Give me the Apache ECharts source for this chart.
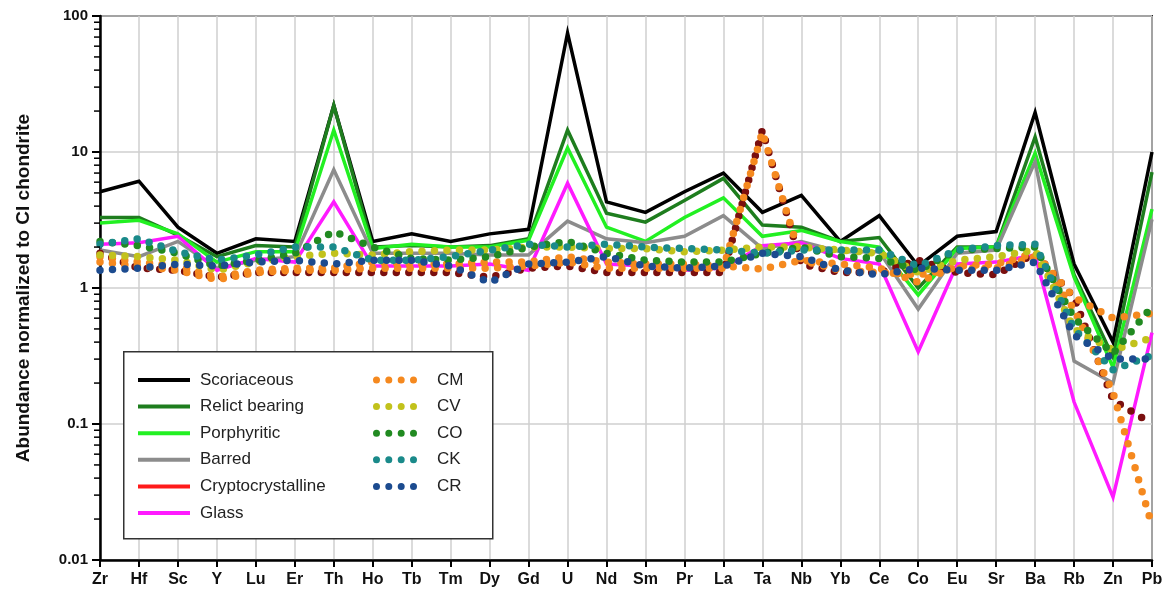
<!DOCTYPE html>
<html>
<head>
<meta charset="utf-8">
<script src="https://cdn.jsdelivr.net/npm/echarts@6/dist/echarts.min.js"></script>
<style>
  html, body { margin: 0; padding: 0; background: #fff; }
  #chart { width: 1168px; height: 606px; }
</style>
</head>
<body>
<div id="chart"></div>
<script>
// elements along the x axis
var elements = ['Zr', 'Hf', 'Sc', 'Y', 'Lu', 'Er', 'Th', 'Ho', 'Tb', 'Tm', 'Dy', 'Gd', 'U', 'Nd',
    'Sm', 'Pr', 'La', 'Ta', 'Nb', 'Yb', 'Ce', 'Co', 'Eu', 'Sr', 'Ba', 'Rb', 'Zn', 'Pb'];
var yTicks = [0.01, 0.1, 1, 10, 100];

// chondrule types (solid lines)
var scoriaceous = [5.1, 6.1, 2.8, 1.8, 2.3, 2.2, 22, 2.2, 2.5, 2.2, 2.5, 2.7, 75, 4.3, 3.6, 5.1, 7.0, 3.6, 4.8, 2.2, 3.4, 1.45, 2.4, 2.6, 19.5, 1.5, 0.4, 10];
var relict = [3.3, 3.3, 2.45, 1.7, 2.05, 2.0, 22, 2.0, 2.05, 2.0, 2.05, 2.3, 14.5, 3.55, 3.05, 4.4, 6.4, 2.9, 2.8, 2.2, 2.35, 1.0, 2.0, 2.0, 12.9, 1.25, 0.31, 7.1];
var porphyritic = [3.0, 3.15, 2.5, 1.55, 1.85, 1.85, 14.5, 1.95, 2.1, 2.0, 2.0, 2.25, 10.7, 2.8, 2.2, 3.3, 4.6, 2.4, 2.65, 2.2, 2.0, 0.89, 1.95, 2.0, 9.8, 1.2, 0.26, 3.8];
var barred = [1.9, 1.7, 2.2, 1.4, 1.6, 1.7, 7.4, 1.8, 1.8, 1.8, 1.75, 1.75, 3.1, 2.3, 2.15, 2.4, 3.4, 1.95, 2.2, 1.85, 1.85, 0.7, 1.8, 1.9, 8.5, 0.29, 0.2, 3.2];
var crypto = [1.85, 1.9, 2.45, 1.75, 2.3, 2.1, 2.4, 1.95, 1.8, 1.8, 1.8, 1.8, 0.63, 1.85, 1.75, 1.7, 1.9, 2.1, 2.15, 2.05, 1.75, 0.38, 1.7, 1.6, 2.2, 0.076, 0.018, 0.22];
var glass = [2.1, 2.15, 2.4, 1.35, 1.65, 1.55, 4.3, 1.45, 1.45, 1.45, 1.5, 1.35, 5.9, 1.5, 1.45, 1.35, 1.4, 2.05, 2.15, 1.65, 1.5, 0.34, 1.5, 1.55, 1.75, 0.145, 0.029, 0.47];

// chondrite groups (dotted lines)
var ciMaroon = [1.8, 1.4, 1.35, 1.2, 1.3, 1.3, 1.3, 1.3, 1.3, 1.3, 1.2, 1.4, 1.45, 1.3, 1.3, 1.3, 1.3, 14.5, 1.5, 1.3, 1.3, 1.6, 1.3, 1.25, 1.8, 0.85, 0.15, 0.1];
var cmFlat = [1.7, 1.55, 1.45, 1.2, 1.35, 1.4, 1.4, 1.55, 1.5, 1.5, 1.55, 1.55, 1.7, 1.55, 1.5, 1.5, 1.45, 1.38, 1.6, 1.5, 1.4, 1.1, 1.45, 1.5, 1.8, 0.85, 0.6, 0.65];
var cm = [1.55, 1.45, 1.35, 1.15, 1.3, 1.35, 1.35, 1.4, 1.4, 1.4, 1.4, 1.45, 1.55, 1.4, 1.4, 1.4, 1.4, 14, 1.6, 1.35, 1.3, 1.25, 1.4, 1.4, 1.7, 0.7, 0.17, 0.018];
var cv = [1.75, 1.7, 1.6, 1.35, 1.55, 1.7, 1.8, 1.75, 1.85, 1.9, 1.9, 2.0, 2.0, 1.95, 1.95, 1.85, 1.9, 2.0, 2.0, 1.9, 1.8, 1.3, 1.6, 1.7, 1.9, 0.5, 0.35, 0.43];
var co = [2.2, 2.05, 1.8, 1.45, 1.6, 1.8, 2.6, 2.0, 1.65, 1.6, 1.7, 2.0, 2.2, 1.8, 1.6, 1.55, 1.55, 1.8, 2.0, 1.7, 1.65, 1.35, 1.9, 1.95, 2.0, 0.6, 0.33, 0.73];
var ck = [2.1, 2.3, 1.85, 1.6, 1.75, 2.0, 2.0, 1.6, 1.6, 1.7, 1.9, 2.1, 2.0, 2.1, 2.0, 1.95, 1.9, 1.8, 1.9, 1.9, 1.9, 1.45, 1.9, 2.05, 2.1, 0.5, 0.25, 0.32];
var cr = [1.35, 1.4, 1.5, 1.45, 1.55, 1.6, 1.5, 1.6, 1.6, 1.45, 1.1, 1.5, 1.55, 1.7, 1.45, 1.4, 1.45, 1.8, 1.7, 1.35, 1.25, 1.4, 1.35, 1.35, 1.55, 0.45, 0.3, 0.3];

var myChart = echarts.init(document.getElementById('chart'), null, {renderer: 'canvas'});
var font = 'Liberation Sans, Arial, sans-serif';

// log minor ticks 2..9 in each decade
var minorTicks = [];
for (var d = 0; d < yTicks.length - 1; d++) {
    for (var m = 2; m <= 9; m++) {
        minorTicks.push([0, +(yTicks[d] * m).toPrecision(3)]);
    }
}

// legend icons: a bar for solid lines, four dots for the dotted ones
var dotIcon = 'path://M0,3.5a3.5,3.5 0 1,0 7,0a3.5,3.5 0 1,0 -7,0' +
    'M12.3,3.5a3.5,3.5 0 1,0 7,0a3.5,3.5 0 1,0 -7,0' +
    'M24.7,3.5a3.5,3.5 0 1,0 7,0a3.5,3.5 0 1,0 -7,0' +
    'M37,3.5a3.5,3.5 0 1,0 7,0a3.5,3.5 0 1,0 -7,0';

function solid(name, color, data) {
    return {
        name: name,
        type: 'line',
        data: data,
        symbol: 'none',
        lineStyle: {color: color, width: 3.5, join: 'miter'},
        itemStyle: {color: color},
        z: 2
    };
}

function dotted(name, color, data) {
    return {
        name: name,
        type: 'line',
        data: data,
        symbol: 'none',
        lineStyle: {color: color, width: 7.5, type: [0, 12.5], cap: 'round'},
        itemStyle: {color: color},
        z: 3
    };
}

var series = [
    solid('Scoriaceous', '#000000', scoriaceous),
    solid('Relict bearing', '#1e7d1e', relict),
    solid('Porphyritic', '#22f022', porphyritic),
    solid('Barred', '#8c8c8c', barred),
    solid('Cryptocrystalline', '#ff1a1a', crypto),
    solid('Glass', '#ff1aff', glass),
    dotted('CI', '#7a0f0f', ciMaroon),
    dotted('CM ', '#f5891f', cmFlat),
    dotted('CM', '#f5891f', cm),
    dotted('CV', '#c2c21c', cv),
    dotted('CO', '#218a21', co),
    dotted('CK', '#1a8a8a', ck),
    dotted('CR', '#1c4b8f', cr),
    {
        type: 'custom',
        silent: true,
        clip: false,
        data: minorTicks,
        renderItem: function (params, api) {
            var p = api.coord([api.value(0), api.value(1)]);
            return {
                type: 'line',
                shape: {x1: p[0] - 6, y1: p[1], x2: p[0], y2: p[1]},
                style: {stroke: '#000', lineWidth: 1.5}
            };
        },
        z: 5
    }
];

var option = {
    animation: false,
    backgroundColor: '#fff',
    grid: {
        left: 100, right: 16, top: 16, bottom: 46,
        show: true, borderColor: '#222', borderWidth: 2
    },
    graphic: [{
        type: 'rect',
        left: 123, top: 351,
        shape: {width: 369, height: 187},
        style: {fill: '#fff', stroke: '#333', lineWidth: 1.5},
        z: 3
    }],
    legend: [{
        data: ['Scoriaceous', 'Relict bearing', 'Porphyritic', 'Barred', 'Cryptocrystalline', 'Glass'],
        orient: 'vertical',
        left: 133, top: 365,
        icon: 'rect',
        itemWidth: 52, itemHeight: 4, itemGap: 6.6,
        textStyle: {fontSize: 17, color: '#222', fontFamily: font, lineHeight: 20, padding: [0, 0, 0, 5]},
        selectedMode: false,
        z: 6
    }, {
        data: ['CM', 'CV', 'CO', 'CK', 'CR'],
        orient: 'vertical',
        left: 368, top: 365,
        icon: dotIcon,
        itemWidth: 44, itemHeight: 7, itemGap: 6.6,
        textStyle: {fontSize: 17, color: '#222', fontFamily: font, lineHeight: 20, padding: [0, 0, 0, 15]},
        selectedMode: false,
        z: 6
    }],
    xAxis: {
        type: 'category',
        data: elements,
        boundaryGap: false,
        axisLine: {lineStyle: {color: '#000', width: 2.5}},
        axisTick: {show: true, length: 7, lineStyle: {color: '#000', width: 2}},
        axisLabel: {fontSize: 16, fontWeight: 'bold', color: '#111', fontFamily: font, margin: 12},
        splitLine: {show: true, lineStyle: {color: '#cfcfcf', width: 1.5}}
    },
    yAxis: {
        type: 'log',
        logBase: 10,
        min: yTicks[0],
        max: yTicks[yTicks.length - 1],
        name: 'Abundance normalized to CI chondrite',
        nameLocation: 'middle',
        nameGap: 67,
        nameTextStyle: {fontSize: 19, fontWeight: 'bold', color: '#111', fontFamily: font},
        axisLine: {show: true, lineStyle: {color: '#000', width: 2.5}},
        axisTick: {show: true, length: 8, lineStyle: {color: '#000', width: 2}},
        axisLabel: {
            fontSize: 15, fontWeight: 'bold', color: '#111', fontFamily: font, margin: 12,
            formatter: function (v) { return String(+v.toPrecision(3)); }
        },
        splitLine: {show: true, lineStyle: {color: '#cfcfcf', width: 1.5}}
    },
    series: series
};

myChart.setOption(option);
window.addEventListener('resize', function () {
    myChart.resize();
});
</script>
</body>
</html>
